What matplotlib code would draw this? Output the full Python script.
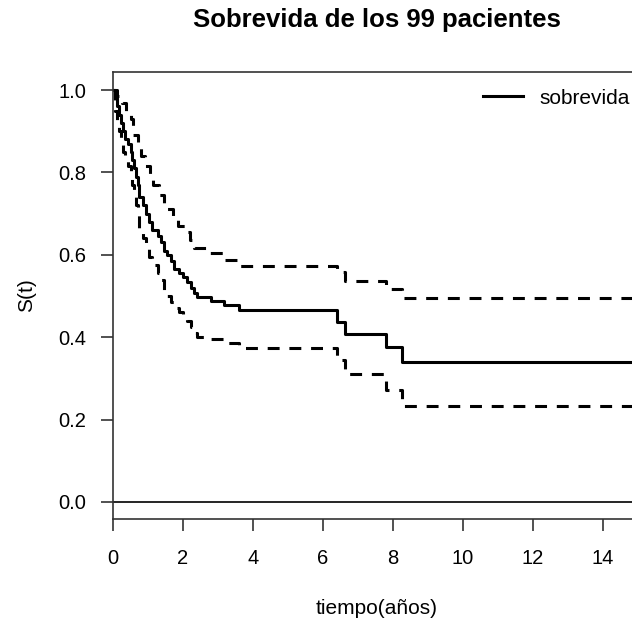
#!/usr/bin/env python3
"""
Curva de sobrevida Kaplan-Meier con bandas de confianza.

"""

import matplotlib

matplotlib.use("Agg")
import matplotlib.pyplot as plt

# tiempos (años) y valores de S(t)
tiempos = [0, 0.05, 0.10, 0.17, 0.22, 0.28, 0.34, 0.42, 0.50, 0.55, 0.60,
           0.66, 0.70, 0.75, 0.85, 0.95, 1.02, 1.10, 1.28, 1.36, 1.45, 1.55,
           1.65, 1.75, 1.88, 2.00, 2.12, 2.22, 2.30, 2.40, 2.80, 3.17, 3.60,
           6.41, 6.63, 7.80, 8.25, 15.5]
sobrevida = [1.0, 0.98, 0.96, 0.94, 0.92, 0.90, 0.88, 0.87, 0.85, 0.83, 0.81,
             0.79, 0.77, 0.74, 0.72, 0.70, 0.68, 0.66, 0.645, 0.63, 0.61, 0.60,
             0.585, 0.565, 0.556, 0.546, 0.535, 0.52, 0.507, 0.498, 0.488,
             0.478, 0.466, 0.438, 0.407, 0.375, 0.339, 0.339]
inferior = [1.0, 0.95, 0.92, 0.90, 0.87, 0.85, 0.83, 0.815, 0.79, 0.77, 0.745,
            0.72, 0.70, 0.665, 0.64, 0.615, 0.595, 0.575, 0.555, 0.538, 0.515,
            0.50, 0.485, 0.47, 0.46, 0.45, 0.44, 0.425, 0.41, 0.40, 0.396,
            0.385, 0.373, 0.345, 0.31, 0.272, 0.234, 0.234]

# banda superior (tiene sus propios saltos visibles)
tiempos_sup = [0, 0.12, 0.25, 0.38, 0.50, 0.58, 0.70, 0.80, 0.92, 1.05, 1.15,
               1.32, 1.45, 1.55, 1.70, 1.85, 2.05, 2.20, 2.30, 2.70, 3.15,
               3.55, 6.41, 6.63, 7.80, 8.25, 15.5]
superior = [1.0, 0.985, 0.968, 0.95, 0.93, 0.89, 0.86, 0.84, 0.815, 0.79,
            0.77, 0.745, 0.725, 0.71, 0.69, 0.67, 0.655, 0.635, 0.617, 0.604,
            0.587, 0.574, 0.5575, 0.537, 0.517, 0.494, 0.494]

x_ticks = [0, 2, 4, 6, 8, 10, 12, 14]
y_ticks = [0.0, 0.2, 0.4, 0.6, 0.8, 1.0]

W, H = 632, 624
plt.rcParams["font.family"] = ["Liberation Sans", "DejaVu Sans"]

fig = plt.figure(figsize=(W / 100, H / 100), dpi=100)
# el area de dibujo se sale un poco por la derecha, como en la imagen original
ax = fig.add_axes([113 / W, (H - 519) / H, 528 / W, 447 / H])

lw = 2.2
dash = (0, (3.9, 3.2))
ax.step(tiempos, sobrevida, where="post", color="black", lw=lw,
        label="sobrevida")
ax.step(tiempos_sup, superior, where="post", color="black", lw=lw,
        linestyle=dash)
ax.step(tiempos, inferior, where="post", color="black", lw=lw,
        linestyle=dash)
ax.axhline(0, color="black", lw=1.2)

ax.set_xlim(0, 528 / 35)
ax.set_ylim(-0.0413, 1.0437)
ax.set_xticks(x_ticks)
ax.set_yticks(y_ticks)
ax.set_yticklabels([f"{v:.1f}" for v in y_ticks])

for side in ("left", "bottom", "top", "right"):
    ax.spines[side].set_linewidth(1.2)
    ax.spines[side].set_color("#333333")
ax.tick_params(direction="out", length=8.5, width=1.2, color="#333333",
               labelsize=14.5)
ax.tick_params(axis="y", pad=11)
ax.tick_params(axis="x", pad=13)

fig.text(377 / W, 1 - 20 / H, "Sobrevida de los 99 pacientes",
         ha="center", va="center", fontsize=18.5, fontweight="bold")
fig.text(377 / W, 1 - 609 / H, "tiempo(años)", ha="center", va="center",
         fontsize=15)
fig.text(27 / W, 1 - 295 / H, "S(t)", ha="center", va="center",
         rotation=90, fontsize=15)

ax.legend(loc="center right", bbox_to_anchor=(630 / W, 1 - 98 / H),
          bbox_transform=fig.transFigure, frameon=False, fontsize=15,
          handlelength=1.9, handletextpad=0.8, borderpad=0,
          borderaxespad=0)

fig.savefig("out.png", dpi=100)
